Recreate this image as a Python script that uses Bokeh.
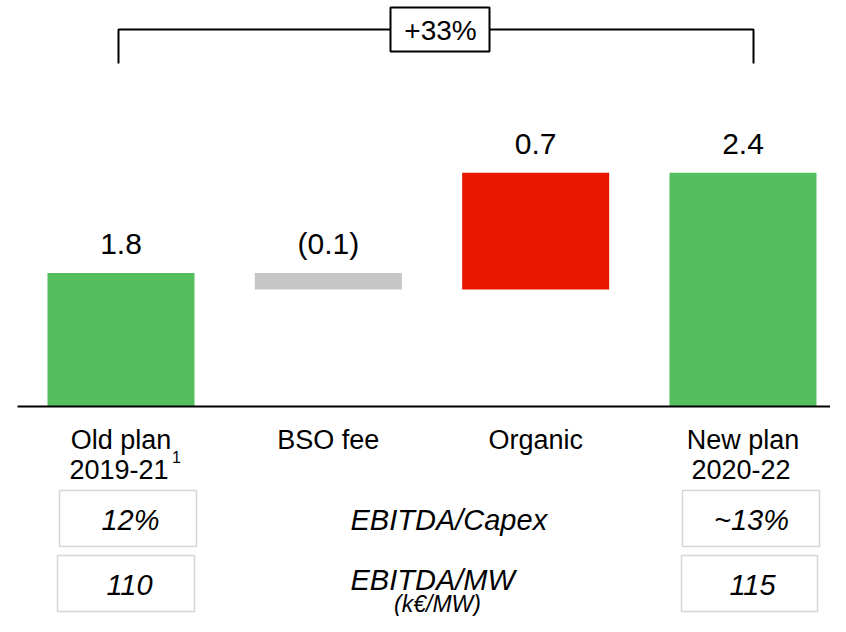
from bokeh.plotting import figure
from bokeh.models import Range1d
from bokeh.core.properties import value
from bokeh.embed import file_html
from bokeh.resources import INLINE

# ---------------- data ----------------
categories = ["Old plan", "BSO fee", "Organic", "New plan"]
category_line2 = ["2019-21", "", "", "2020-22"]
steps = [1.8, -0.1, 0.7, 2.4]
kinds = ["total", "delta", "delta", "total"]
growth_label = "+33%"
capex_row = ["12%", "EBITDA/Capex", "~13%"]
mw_row = ["110", "EBITDA/MW", "115"]
mw_unit = "(k€/MW)"
footnote_mark = "1"

AXIS_START = 1.0  # value axis is truncated: bars of totals start here

GREEN = "#55BE5E"
RED = "#E81800"
GREY = "#C6C6C6"
FONT = value("Liberation Sans")

# ---------------- waterfall geometry from data ----------------
xs = list(range(len(categories)))
bottoms, tops, colors, labels, label_y = [], [], [], [], []
running = 0.0
for v, k in zip(steps, kinds):
    if k == "total":
        b, t = AXIS_START, v
        running = v
        c = GREEN
    else:
        b, t = running, running + v
        running = t
        c = RED if v > 0 else GREY
    bottoms.append(b)
    tops.append(t)
    colors.append(c)
    labels.append(f"{v:.1f}" if v >= 0 else f"({abs(v):.1f})")
    label_y.append(max(b, t))

# ---------------- figure / layout ----------------
W, H = 830, 616
SLOT_PX = 207.33     # pixels per category slot
FIRST_PX = 120.5     # x pixel of first category centre
UNIT_PX = 167.0      # pixels per value unit
BASE_PX = 406.0      # y pixel (from top) of AXIS_START


def fx(px):  # pixel x -> data x
    return (px - FIRST_PX) / SLOT_PX


def fy(py):  # pixel y (from top) -> data y
    return AXIS_START + (BASE_PX - py) / UNIT_PX


p = figure(width=W, height=H, output_backend="svg", toolbar_location=None,
           x_axis_location=None, y_axis_location=None, min_border=0,
           x_range=Range1d(fx(0), fx(W)),
           y_range=Range1d(fy(H), fy(0)))
p.grid.visible = False
p.outline_line_color = None
p.background_fill_color = "white"
p.border_fill_color = "white"

# bars
p.vbar(x=xs, bottom=bottoms, top=tops, width=0.709, fill_color=colors,
       line_color=None)

# baseline
p.segment(x0=[fx(17)], x1=[fx(846)], y0=[AXIS_START], y1=[AXIS_START],
          line_color="black", line_width=2)

# value labels
p.text(x=xs, y=label_y, text=labels, text_font=FONT, text_font_size="30px",
       text_align="center", text_baseline="alphabetic", y_offset=-29,
       text_color="black")

# category labels
p.text(x=xs, y=[AXIS_START] * len(xs), text=categories, text_font=FONT,
       text_font_size="27px", text_align="center", text_baseline="alphabetic",
       y_offset=33, text_color="black")
p.text(x=xs, y=[AXIS_START] * len(xs), text=category_line2, text_font=FONT,
       text_font_size="27px", text_align="center", text_baseline="alphabetic",
       y_offset=63, x_offset=-2, text_color="black")
p.text(x=[xs[0]], y=[AXIS_START], text=[footnote_mark], text_font=FONT,
       text_font_size="16px", text_align="left", text_baseline="alphabetic",
       x_offset=51, y_offset=50, text_color="black")

# growth bracket
p.line(x=[fx(118), fx(118), fx(753), fx(753)],
       y=[fy(63), fy(29), fy(29), fy(63)], line_color="black", line_width=2)
p.quad(left=[fx(390)], right=[fx(489)], top=[fy(7)], bottom=[fy(51)],
       fill_color="white", line_color="black", line_width=2)
p.text(x=[fx(440)], y=[fy(30)], text=[growth_label], text_font=FONT,
       text_font_size="28px", text_align="center", text_baseline="middle",
       text_color="black")

# KPI table
BOX_LINE = "#D6D6D6"
R1_TOP, R1_BOT = 490, 546
R2_TOP, R2_BOT = 555, 611
R1_MID = (R1_TOP + R1_BOT) / 2 + 1
R2_MID = (R2_TOP + R2_BOT) / 2 + 1
p.quad(left=[fx(59), fx(57), fx(682), fx(681)],
       right=[fx(196), fx(194), fx(819), fx(817)],
       top=[fy(R1_TOP), fy(R2_TOP), fy(R1_TOP), fy(R2_TOP)],
       bottom=[fy(R1_BOT), fy(R2_BOT), fy(R1_BOT), fy(R2_BOT)],
       fill_color="white", line_color=BOX_LINE, line_width=1.5)

p.text(x=[fx(130), fx(751)], y=[fy(R1_MID), fy(R1_MID)],
       text=[capex_row[0], capex_row[2]], text_font=FONT,
       text_font_size="29px", text_font_style="italic", text_align="center",
       text_baseline="middle", text_color="black")
p.text(x=[fx(129), fx(752)], y=[fy(R2_MID), fy(R2_MID)],
       text=[mw_row[0], mw_row[2]], text_font=FONT,
       text_font_size="29px", text_font_style="italic", text_align="center",
       text_baseline="middle", text_color="black")
p.text(x=[fx(350), fx(350)], y=[fy(R1_MID), fy(R2_MID - 5)],
       text=[capex_row[1], mw_row[1]], text_font=FONT,
       text_font_size="29px", text_font_style="italic", text_align="left",
       text_baseline="middle", text_color="black")
p.text(x=[fx(437)], y=[fy(603)], text=[mw_unit], text_font=FONT,
       text_font_size="23px", text_font_style="italic", text_align="center",
       text_baseline="middle", text_color="black")

open("out.html", "w").write(file_html(p, INLINE))
